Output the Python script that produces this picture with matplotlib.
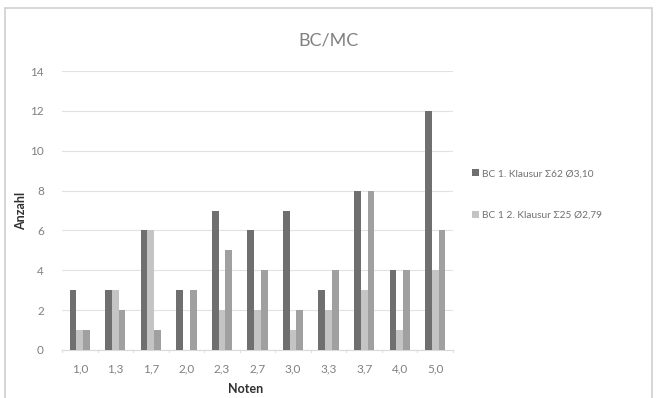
import numpy as np
import matplotlib
matplotlib.use("Agg")
import matplotlib.pyplot as plt
from matplotlib.patches import Rectangle

plt.rcParams['font.family'] = ['Lato', 'DejaVu Sans']

grades = ["1,0", "1,3", "1,7", "2,0", "2,3", "2,7", "3,0", "3,3", "3,7", "4,0", "5,0"]
exam1 = [3, 3, 6, 3, 7, 6, 7, 3, 8, 4, 12]
exam2 = [1, 3, 6, 0, 2, 2, 1, 2, 3, 1, 4]
exam3 = [1, 2, 1, 3, 5, 4, 2, 4, 8, 4, 6]
labels = ["BC 1. Klausur \u03a362 \u00d83,10", "BC 1 2. Klausur \u03a325 \u00d82,79", "_nolegend_"]
colors = ["#6f6f6f", "#c4c4c4", "#a0a0a0"]

fig = plt.figure(figsize=(6.56, 3.98), dpi=100)
fig.patch.set_facecolor("white")
fig.add_artist(Rectangle((5 / 656, -0.01), 647 / 656, 1 - 8 / 398 + 0.01,
                         transform=fig.transFigure, fill=False,
                         edgecolor="#d0d0d0", linewidth=1.2))

ax = fig.add_axes([62 / 656, 1 - 350 / 398, (453 - 62) / 656, (350 - 71) / 398])
x = np.arange(len(grades))
w = 0.19
bars = []
for i, (vals, c, lab) in enumerate(zip([exam1, exam2, exam3], colors, labels)):
    b = ax.bar(x + (i - 1) * w, vals, width=w, color=c, label=lab, zorder=3)
    bars.append(b)

ax.set_xlim(-0.5, len(grades) - 0.5)
ax.set_ylim(0, 14)
ax.set_yticks(range(0, 15, 2))
ax.set_xticks(x)
ax.set_xticklabels(grades)
ax.tick_params(axis="both", length=0, colors="#808080", labelsize=8.5)
ax.tick_params(axis="y", pad=13)
ax.tick_params(axis="x", pad=10)
ax.grid(axis="y", color="#e2e2e2", linewidth=0.8, zorder=0)
for s in ["top", "right", "left"]:
    ax.spines[s].set_visible(False)
ax.spines["bottom"].set_color("#d9d9d9")
# small separators between grade groups on the category axis
for pos in np.arange(-0.5, len(grades), 1.0):
    ax.plot([pos, pos], [0, -0.12], color="#e0e0e0", linewidth=0.8,
            clip_on=False, zorder=2)

ax.set_ylabel("Anzahl", fontsize=9, fontweight="bold", color="#303030")
ax.yaxis.set_label_coords(-0.09, 0.5)
ax.set_xlabel("Noten", fontsize=9, fontweight="bold", color="#303030")
ax.xaxis.set_label_coords(0.47, -0.118)

fig.text(0.5, 1 - 41 / 398, "BC/MC", ha="center", va="center",
         fontsize=13, color="#808080")

leg = fig.legend(handles=[bars[0], bars[1]], labels=labels[:2],
                 loc="upper left", bbox_to_anchor=(463 / 656, 1 - 160 / 398),
                 frameon=False, fontsize=7.3, labelcolor="#707070",
                 handlelength=0.7, handleheight=0.7, handletextpad=0.3,
                 labelspacing=3.2)

fig.savefig("out.png", dpi=100, facecolor="white")
